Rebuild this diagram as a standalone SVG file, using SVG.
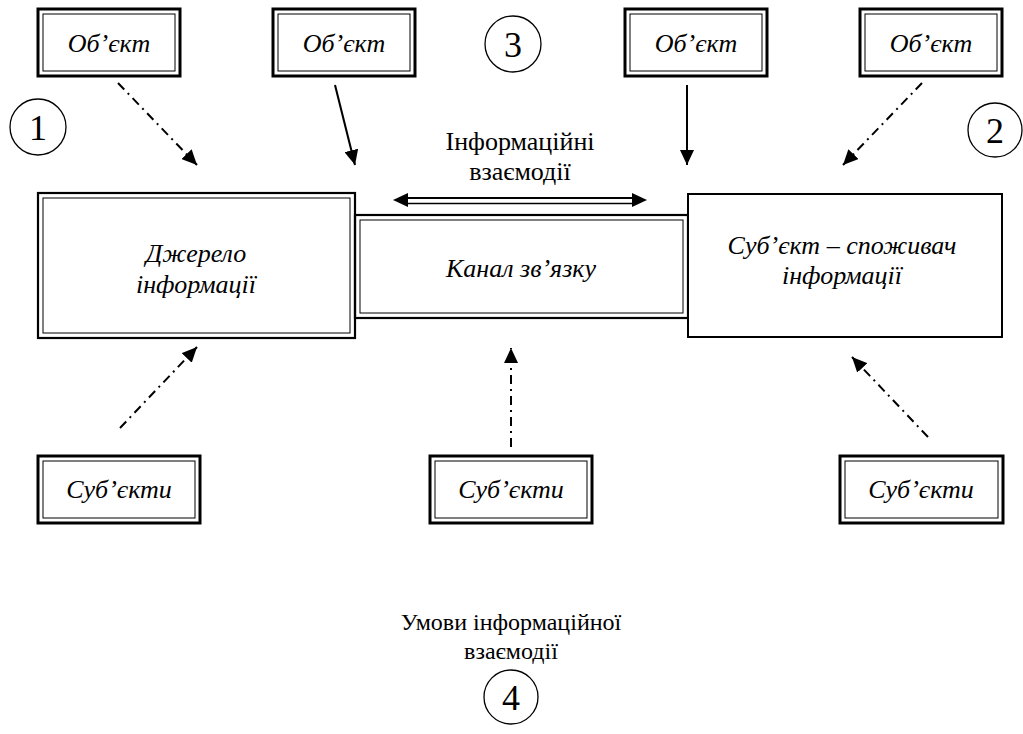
<svg xmlns="http://www.w3.org/2000/svg" width="1023" height="734" viewBox="0 0 1023 734">
<defs>
<style>
text{font-family:'Liberation Serif','DejaVu Serif',serif;fill:#000;text-anchor:middle}
.t{font-size:26px}
.s{font-size:24px}
.i{font-style:italic}
.num{font-size:36px}
.ob{fill:none;stroke:#000;stroke-width:3}
.ib{fill:none;stroke:#000;stroke-width:1}
.db{fill:none;stroke:#000;stroke-width:2.2}
.sb{fill:#fff;stroke:#000;stroke-width:2}
.c{fill:none;stroke:#000;stroke-width:1.3}
.sol{stroke:#000;stroke-width:2;fill:none}
.dd{stroke:#000;stroke-width:2;fill:none;stroke-dasharray:9 5 2 5}
</style>
<marker id="ah" markerUnits="userSpaceOnUse" markerWidth="16" markerHeight="14" refX="15" refY="7" orient="auto">
<path d="M0,0 L15,7 L0,14 z" fill="#000"/>
</marker>
</defs>
<rect width="1023" height="734" fill="#fff"/>
<g font-family="Liberation Serif, DejaVu Serif, serif">
<g id="obj1"><rect class="ob" x="38" y="9" width="142" height="67"/><rect class="ib" x="43" y="14" width="132" height="57"/><text class="t i" x="109" y="52">Об’єкт</text></g>
<g id="obj2"><rect class="ob" x="273" y="9" width="142" height="67"/><rect class="ib" x="278" y="14" width="132" height="57"/><text class="t i" x="344" y="52">Об’єкт</text></g>
<g id="obj3"><rect class="ob" x="625" y="9" width="142" height="67"/><rect class="ib" x="630" y="14" width="132" height="57"/><text class="t i" x="696" y="52">Об’єкт</text></g>
<g id="obj4"><rect class="ob" x="860" y="9" width="142" height="67"/><rect class="ib" x="865" y="14" width="132" height="57"/><text class="t i" x="931" y="52">Об’єкт</text></g>

<g id="n1"><circle class="c" cx="38" cy="127" r="28"/><text class="num" x="38" y="140">1</text></g>
<g id="n2"><circle class="c" cx="995" cy="130" r="27"/><text class="num" x="995" y="143">2</text></g>
<g id="n3"><circle class="c" cx="513" cy="44" r="28"/><text class="num" x="513" y="57">3</text></g>
<g id="n4"><circle class="c" cx="511" cy="697" r="27"/><text class="num" x="511" y="710">4</text></g>

<g id="source"><rect class="db" x="38" y="193" width="317" height="145"/><rect class="ib" x="43" y="198" width="307" height="135"/>
<text class="t i" x="196" y="262">Джерело</text><text class="t i" x="196" y="293">інформації</text></g>

<g id="channel"><rect class="db" x="355" y="215" width="333" height="103" fill="#fff"/><rect class="ib" x="360" y="220" width="323" height="93"/>
<text class="t i" x="521" y="277">Канал зв’язку</text></g>

<g id="consumer"><rect class="sb" x="688" y="194" width="314" height="143"/>
<text class="t i" x="842" y="254">Суб’єкт – споживач</text><text class="t i" x="842" y="284">інформації</text></g>

<g id="subj1"><rect class="ob" x="38" y="456" width="162" height="67"/><rect class="ib" x="43" y="461" width="152" height="57"/><text class="t i" x="119" y="498">Суб’єкти</text></g>
<g id="subj2"><rect class="ob" x="430" y="456" width="162" height="67"/><rect class="ib" x="435" y="461" width="152" height="57"/><text class="t i" x="511" y="498">Суб’єкти</text></g>
<g id="subj3"><rect class="ob" x="840" y="456" width="163" height="67"/><rect class="ib" x="845" y="461" width="153" height="57"/><text class="t i" x="921" y="498">Суб’єкти</text></g>

<g id="label-interaction"><text class="t" x="520" y="150">Інформаційні</text><text class="t" x="520" y="180">взаємодії</text></g>
<g id="label-conditions"><text class="s" x="511" y="630">Умови інформаційної</text><text class="s" x="511" y="659">взаємодії</text></g>
</g>
<g id="connectors">
<line class="dd" x1="118" y1="83" x2="197" y2="165" marker-end="url(#ah)"/>
<line class="sol" x1="335" y1="85" x2="355" y2="165" marker-end="url(#ah)"/>
<line class="sol" x1="687" y1="85" x2="687" y2="165" marker-end="url(#ah)"/>
<line class="dd" x1="922" y1="83" x2="843" y2="165" marker-end="url(#ah)"/>
<line class="dd" x1="120" y1="428" x2="197" y2="347" marker-end="url(#ah)"/>
<line class="dd" x1="511" y1="447" x2="511" y2="348" marker-end="url(#ah)"/>
<line class="dd" x1="928" y1="437" x2="852" y2="357" marker-end="url(#ah)"/>
<g id="bidir">
<line x1="405" y1="198" x2="635" y2="198" stroke="#000" stroke-width="2"/>
<line x1="405" y1="203.5" x2="635" y2="203.5" stroke="#000" stroke-width="1.5"/>
<path d="M393,200 L408,193 L408,207 z" fill="#000"/>
<path d="M647,200 L632,193 L632,207 z" fill="#000"/>
</g>
</g>
</svg>
